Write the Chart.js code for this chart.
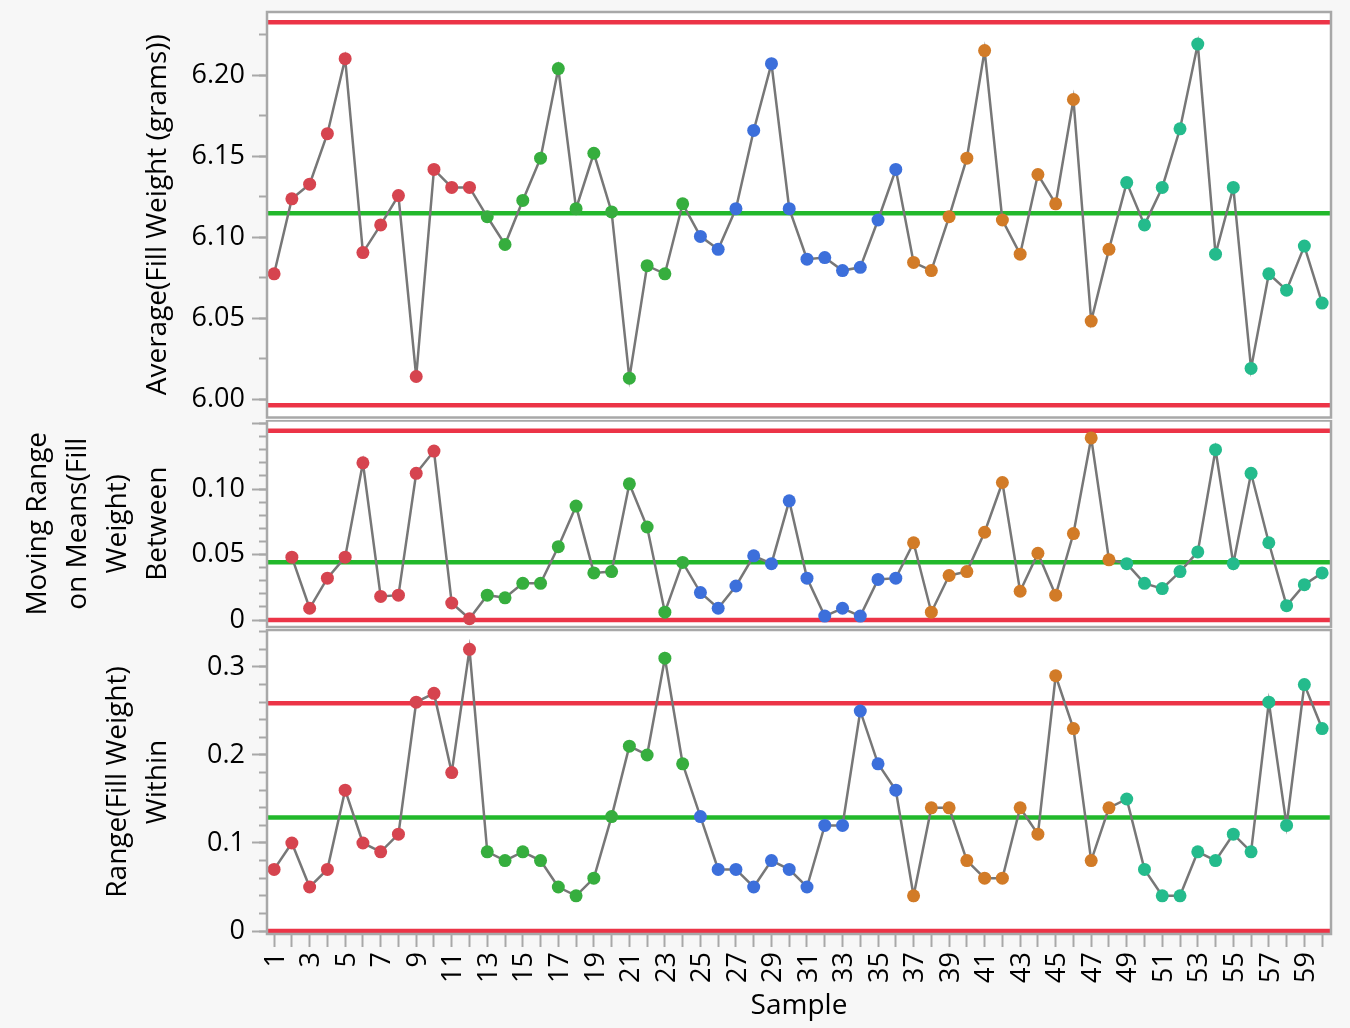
<!DOCTYPE html>
<html>
<head>
<meta charset="utf-8">
<script src="https://cdn.jsdelivr.net/npm/chart.js@4.4.1/dist/chart.umd.min.js"></script>
<style>
  html, body { margin: 0; padding: 0; background: #f7f7f7; }
  body { width: 1350px; height: 1028px; position: relative; overflow: hidden; }
  .panel { position: absolute; left: 0; width: 1350px; }
</style>
</head>
<body>
<div class="panel" style="top:0;height:420px"><canvas id="avgChart"></canvas></div>
<div class="panel" style="top:420px;height:208px"><canvas id="mrChart"></canvas></div>
<div class="panel" style="top:628px;height:400px"><canvas id="rangeChart"></canvas></div>
<script>
// samples 1..60, subgroups of 6, colour changes every 12 samples
const samples = Array.from({ length: 60 }, (_, i) => i + 1);

const avgWeight = [
  6.0773, 6.1236, 6.1326, 6.1638, 6.2101, 6.0904, 6.1075, 6.1256, 6.0139, 6.1417,
  6.1306, 6.1306, 6.1125, 6.0954, 6.1226, 6.1487, 6.2040, 6.1175, 6.1517, 6.1155,
  6.0129, 6.0823, 6.0773, 6.1205, 6.1004, 6.0924, 6.1175, 6.1658, 6.2070, 6.1175,
  6.0863, 6.0873, 6.0793, 6.0813, 6.1105, 6.1417, 6.0843, 6.0793, 6.1125, 6.1487,
  6.2151, 6.1105, 6.0894, 6.1386, 6.1205, 6.1849, 6.0481, 6.0924, 6.1336, 6.1075,
  6.1306, 6.1668, 6.2191, 6.0894, 6.1306, 6.0189, 6.0773, 6.0672, 6.0944, 6.0592
];

const movingRange = [
  null, 0.048, 0.009, 0.032, 0.048, 0.120, 0.018, 0.019, 0.112, 0.129,
  0.013, 0.001, 0.019, 0.017, 0.028, 0.028, 0.056, 0.087, 0.036, 0.037,
  0.104, 0.071, 0.006, 0.044, 0.021, 0.009, 0.026, 0.049, 0.043, 0.091,
  0.032, 0.003, 0.009, 0.003, 0.031, 0.032, 0.059, 0.006, 0.034, 0.037,
  0.067, 0.105, 0.022, 0.051, 0.019, 0.066, 0.139, 0.046, 0.043, 0.028,
  0.024, 0.037, 0.052, 0.130, 0.043, 0.112, 0.059, 0.011, 0.027, 0.036
];

const rangeWithin = [
  0.07, 0.10, 0.05, 0.07, 0.16, 0.10, 0.09, 0.11, 0.26, 0.27,
  0.18, 0.32, 0.09, 0.08, 0.09, 0.08, 0.05, 0.04, 0.06, 0.13,
  0.21, 0.20, 0.31, 0.19, 0.13, 0.07, 0.07, 0.05, 0.08, 0.07,
  0.05, 0.12, 0.12, 0.25, 0.19, 0.16, 0.04, 0.14, 0.14, 0.08,
  0.06, 0.06, 0.14, 0.11, 0.29, 0.23, 0.08, 0.14, 0.15, 0.07,
  0.04, 0.04, 0.09, 0.08, 0.11, 0.09, 0.26, 0.12, 0.28, 0.23
];

// UCL, centre line, LCL
const avgLimits = [6.2325, 6.1146, 5.9961];
const mrLimits = [0.1445, 0.0442, 0];
const rangeLimits = [0.2587, 0.129, 0];

const avgMajorTicks = [6.00, 6.05, 6.10, 6.15, 6.20];
const avgMinorTicks = [6.00, 6.025, 6.05, 6.075, 6.10, 6.125, 6.15, 6.175, 6.20, 6.225];
const mrMajorTicks = [0, 0.05, 0.10, 0.15];
const mrMinorTicks = [0, 0.01, 0.02, 0.03, 0.04, 0.05, 0.06, 0.07, 0.08, 0.09, 0.10, 0.11, 0.12, 0.13, 0.14, 0.15];
const rangeMajorTicks = [0, 0.1, 0.2, 0.3];
const rangeMinorTicks = [0, 0.02, 0.04, 0.06, 0.08, 0.10, 0.12, 0.14, 0.16, 0.18, 0.20, 0.22, 0.24, 0.26, 0.28, 0.30, 0.32, 0.34];

const avgTitle = ['Average(Fill Weight (grams))'];
const mrTitle = ['Moving Range', 'on Means(Fill', 'Weight)', 'Between'];
const rangeTitle = ['Range(Fill Weight)', 'Within'];

const groupColors = ['#d6444f', '#36ae3e', '#3c6fdb', '#d27b27', '#24bb8c'];
const LIMIT_COLOR = '#ec3447';
const CL_COLOR = '#22b82b';
const FRAME_COLOR = '#a8a8a8';
const X_MIN = 0.6, X_MAX = 60.5;
const AXIS_W = 267;

Chart.defaults.font.family = "'Open Sans', sans-serif";
Chart.defaults.color = '#000';

const tickFont = { size: 27 };
const titleFont = { size: 28, lineHeight: '40px' };

// no automatic label padding, the panels must line up exactly
function noPad(s) {
  s.paddingTop = 0; s.paddingBottom = 0; s.paddingLeft = 0; s.paddingRight = 0;
}

const framePlugin = {
  id: 'frame',
  beforeDraw(chart) {
    const { ctx, chartArea: a } = chart;
    ctx.save();
    ctx.fillStyle = '#fff';
    ctx.fillRect(a.left, a.top, a.width, a.height);
    ctx.restore();
  },
  afterDraw(chart) {
    const { ctx, chartArea: a } = chart;
    ctx.save();
    ctx.strokeStyle = FRAME_COLOR;
    ctx.lineWidth = 2.5;
    ctx.strokeRect(a.left, a.top, a.width, a.height);
    ctx.restore();
  }
};

function makePanel(id, p) {
  const datasets = [
    {
      data: samples.map((s, i) => ({ x: s, y: p.values[i] })),
      borderColor: '#777777',
      borderWidth: 2.5,
      pointRadius: 6.5,
      pointHoverRadius: 6.5,
      pointBorderWidth: 0,
      pointBackgroundColor: samples.map(s => groupColors[Math.floor((s - 1) / 12)]),
      order: 0
    }
  ];
  p.limits.forEach((v, k) => {
    datasets.push({
      data: [{ x: X_MIN, y: v }, { x: X_MAX, y: v }],
      borderColor: k === 1 ? CL_COLOR : LIMIT_COLOR,
      borderWidth: 4.5,
      pointRadius: 0,
      order: 1
    });
  });

  const xScale = {
    type: 'linear',
    min: X_MIN,
    max: X_MAX,
    display: p.showX,
    afterBuildTicks: s => { s.ticks = samples.map(v => ({ value: v })); },
    afterFit: s => { s.height = p.showX ? 94 : 0; noPad(s); },
    ticks: {
      font: tickFont,
      autoSkip: false,
      minRotation: 90,
      maxRotation: 90,
      padding: 5,
      labelOffset: 2,
      callback: v => (v % 2 === 1 ? String(v) : '')
    },
    grid: { drawOnChartArea: false, tickLength: 13, tickColor: FRAME_COLOR, tickWidth: 2 },
    border: { display: false },
    title: { display: true, text: 'Sample', font: { size: 28 }, padding: { top: 0, bottom: 5 } }
  };

  new Chart(document.getElementById(id), {
    type: 'line',
    data: { datasets },
    options: {
      responsive: true,
      maintainAspectRatio: false,
      animation: false,
      devicePixelRatio: 1,
      layout: { autoPadding: false, padding: p.padding },
      plugins: { legend: { display: false }, tooltip: { enabled: false } },
      scales: {
        x: xScale,
        y: {
          position: 'left',
          weight: 1,
          min: p.min,
          max: p.max,
          afterBuildTicks: s => { s.ticks = p.major.map(v => ({ value: v })); },
          afterFit: s => { s.width = AXIS_W; noPad(s); },
          ticks: { font: tickFont, padding: 7, callback: p.label },
          grid: { drawOnChartArea: false, tickLength: 15, tickColor: FRAME_COLOR, tickWidth: 2 },
          border: { display: false },
          title: { display: true, text: p.title, font: titleFont, padding: { top: p.titlePad, bottom: 0 } }
        },
        yMinor: {
          position: 'left',
          weight: 0,
          min: p.min,
          max: p.max,
          afterBuildTicks: s => { s.ticks = p.minor.map(v => ({ value: v })); },
          afterFit: s => { s.width = 0; noPad(s); },
          ticks: { display: false },
          grid: { drawOnChartArea: false, tickLength: 8, tickColor: FRAME_COLOR, tickWidth: 2 },
          border: { display: false }
        }
      }
    },
    plugins: [framePlugin]
  });
}

makePanel('avgChart', {
  values: avgWeight, limits: avgLimits,
  min: 5.9886, max: 6.2389,
  major: avgMajorTicks, minor: avgMinorTicks,
  label: v => v.toFixed(2),
  title: avgTitle, titlePad: 138,
  showX: false,
  padding: { top: 12, bottom: 2.5, left: 0, right: 19 }
});

makePanel('mrChart', {
  values: movingRange, limits: mrLimits,
  min: -0.0053, max: 0.1523,
  major: mrMajorTicks, minor: mrMinorTicks,
  label: v => (v === 0 ? '0' : (v > 0.14 ? '' : v.toFixed(2))),
  title: mrTitle, titlePad: 18,
  showX: false,
  padding: { top: 0.5, bottom: 1, left: 0, right: 19 }
});

makePanel('rangeChart', {
  values: rangeWithin, limits: rangeLimits,
  min: -0.0034, max: 0.342,
  major: rangeMajorTicks, minor: rangeMinorTicks,
  label: v => (v === 0 ? '0' : v.toFixed(1)),
  title: rangeTitle, titlePad: 98,
  showX: true,
  padding: { top: 2, bottom: 0, left: 0, right: 19 }
});
</script>
</body>
</html>
